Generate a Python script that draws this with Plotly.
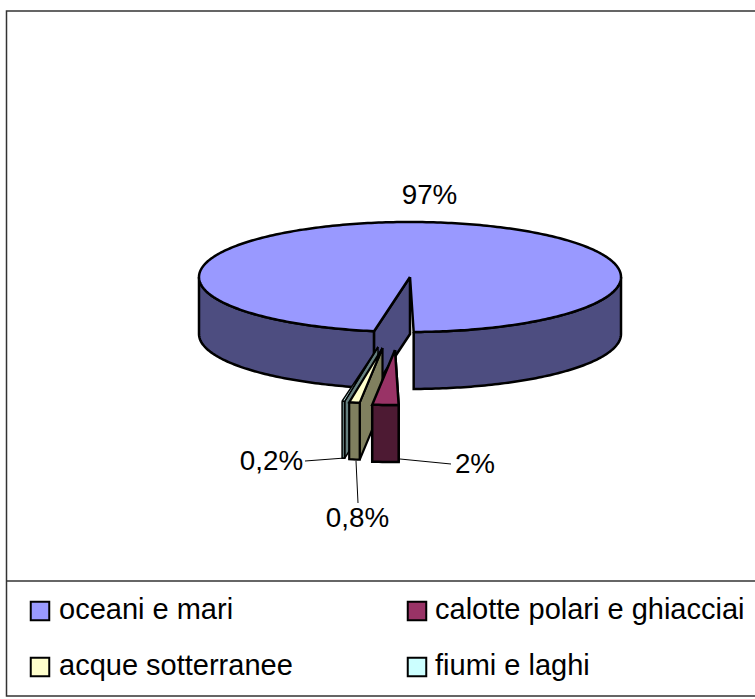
import math
import plotly.graph_objects as go

categories = ["oceani e mari", "calotte polari e ghiacciai", "acque sotterranee", "fiumi e laghi"]
values = [97, 2, 0.8, 0.2]
labels = ["97%", "2%", "0,8%", "0,2%"]

top_colors = ["#9999FF", "#993366", "#FFFFCC", "#CCFFFF"]
side_colors = ["#4D4D80", "#4D1A33", "#80805F", "#668080"]

# page-pixel drawing space
W, H = 755, 699
RX, RY, DEPTH = 211, 55, 57
START = -9.8
centers = [(410, 277), (395, 350), (382.5, 348), (378, 347)]
widths = [2.5, 2.5, 2.2, 1.5]

def rim(c, t, dz=0):
    r = math.radians(t)
    return c[0] + RX * math.sin(r), c[1] + RY * math.cos(r) + dz

def arc(c, t0, t1, dz=0):
    n = max(2, int(abs(t1 - t0)) + 2)
    return [rim(c, t0 + (t1 - t0) * i / (n - 1), dz) for i in range(n)]

def poly(fig, pts, color, name, lw):
    xs = [p[0] for p in pts] + [pts[0][0]]
    ys = [p[1] for p in pts] + [pts[0][1]]
    fig.add_trace(go.Scatter(x=xs, y=ys, mode="lines", fill="toself", fillcolor=color,
                             line=dict(color="black", width=lw, simplify=False),
                             name=name, hoverinfo="skip", showlegend=False))

def line(fig, pts):
    fig.add_trace(go.Scatter(x=[p[0] for p in pts], y=[p[1] for p in pts], mode="lines",
                             line=dict(color="black", width=1), hoverinfo="skip", showlegend=False))

fig = go.Figure()

# slice angles (t = 0 is front centre, clockwise on screen means falling t)
spans = []
t = START
for v in values:
    t2 = t - v * 3.6
    spans.append((t, t2))
    t = t2

# ocean slice
c = centers[0]
a, b = spans[0]
right_cut = b + 360
lw = widths[0]
poly(fig, arc(c, -90, a) + arc(c, a, -90, DEPTH), side_colors[0], categories[0], lw)
poly(fig, arc(c, right_cut, 90) + arc(c, 90, right_cut, DEPTH), side_colors[0], categories[0], lw)
poly(fig, [c, rim(c, a), rim(c, a, DEPTH), (c[0], c[1] + DEPTH)], side_colors[0], categories[0], lw)
poly(fig, [c] + arc(c, right_cut, 360 + a), top_colors[0], categories[0], lw)

# small exploded slices, furthest first
for i in (3, 2, 1):
    c = centers[i]
    right, left = spans[i][0] + 360, spans[i][1] + 360
    lw = widths[i]
    poly(fig, [c, rim(c, right), rim(c, right, DEPTH), (c[0], c[1] + DEPTH)], side_colors[i], categories[i], lw)
    poly(fig, arc(c, left, right) + arc(c, right, left, DEPTH), side_colors[i], categories[i], lw)
    poly(fig, [c] + arc(c, left, right), top_colors[i], categories[i], lw)

# data-label leader lines
line(fig, [(305, 461), (345, 458)])
line(fig, [(400, 459), (451, 464)])
line(fig, [(356, 461), (358, 503)])

label_pos = [(429.5, 197), (475, 466), (357.5, 520), (271.5, 463)]
fig.add_trace(go.Scatter(x=[p[0] for p in label_pos], y=[p[1] for p in label_pos], mode="text",
                         text=labels, textposition="middle center",
                         textfont=dict(family="Liberation Sans", size=27.8, color="black"),
                         hoverinfo="skip", showlegend=False))

# legend built as markers + text, laid out in two columns
key_pos = [(40, 611), (417, 611), (40, 667), (417, 667)]
text_pos = [(59, 612), (435, 612), (59, 668), (435, 668)]
for i, name in enumerate(categories):
    fig.add_trace(go.Scatter(x=[key_pos[i][0]], y=[key_pos[i][1]], mode="markers",
                             marker=dict(symbol="square", size=18.5, color=top_colors[i],
                                         line=dict(color="black", width=2)),
                             name=name, hoverinfo="skip", showlegend=False))
    fig.add_trace(go.Scatter(x=[text_pos[i][0]], y=[text_pos[i][1]], mode="text",
                             text=[name], textposition="middle right",
                             textfont=dict(family="Liberation Sans", size=29, color="black"),
                             name=name, hoverinfo="skip", showlegend=False))

frame = dict(color="#333333", width=1.5)
shapes = [
    dict(type="rect", xref="x", yref="y", x0=6.5, x1=800, y0=11, y1=696, line=frame),
    dict(type="line", xref="x", yref="y", x0=6.5, x1=800, y0=581, y1=581, line=frame),
]

fig.update_layout(
    width=W, height=H, margin=dict(l=0, r=0, t=0, b=0),
    paper_bgcolor="white", plot_bgcolor="white",
    xaxis=dict(range=[0, W], visible=False, fixedrange=True),
    yaxis=dict(range=[H, 0], visible=False, fixedrange=True),
    shapes=shapes, showlegend=False,
)
fig.write_html("out.html", config={"displayModeBar": False},
               post_script="document.body.style.margin='0';")
